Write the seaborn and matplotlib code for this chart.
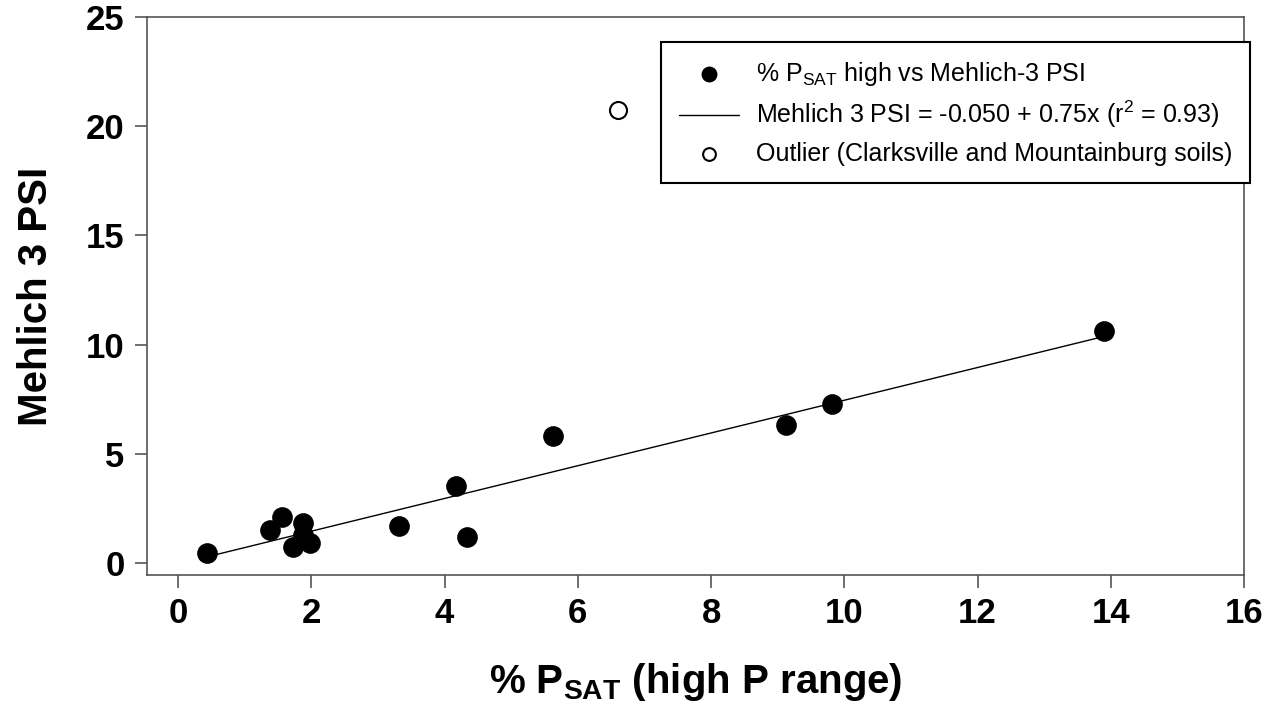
import numpy as np
import pandas as pd
import seaborn as sns
import matplotlib.pyplot as plt

# % PSAT (high P range) vs Mehlich 3 PSI
psat = [0.44, 1.38, 1.56, 1.73, 1.88, 1.88, 1.98, 3.32, 4.17, 4.34, 5.62, 9.13, 9.82, 13.89]
psi = [0.46, 1.52, 2.12, 0.74, 1.84, 1.29, 0.92, 1.70, 3.50, 1.20, 5.81, 6.31, 7.28, 10.60]
outlier_x = [6.61]
outlier_y = [20.74]
intercept, slope = -0.050, 0.75

sns.set_style('white')
plt.rcParams['font.family'] = ['Liberation Sans', 'DejaVu Sans']
plt.rcParams['mathtext.fontset'] = 'custom'
plt.rcParams['mathtext.rm'] = 'Liberation Sans'
plt.rcParams['mathtext.bf'] = 'Liberation Sans:bold'
plt.rcParams['text.color'] = 'black'
plt.rcParams['axes.labelcolor'] = 'black'
plt.rcParams['xtick.color'] = 'black'
plt.rcParams['ytick.color'] = 'black'

df = pd.DataFrame({'x': psat, 'y': psi})
fit = pd.DataFrame({'x': [min(psat), max(psat)]})
fit['y'] = intercept + slope * fit['x']
out = pd.DataFrame({'x': outlier_x, 'y': outlier_y})

fig = plt.figure(figsize=(12.76, 7.15), dpi=100)
ax = fig.add_axes([0.115, 0.196, 0.86, 0.78])

sns.scatterplot(x='x', y='y', data=df, ax=ax, color='black', s=190,
                edgecolor='black', zorder=3,
                label=r'% P$_{\mathrm{SAT}}$ high vs Mehlich-3 PSI')
sns.lineplot(x='x', y='y', data=fit, ax=ax, color='black', linewidth=1.0,
             label=r'Mehlich 3 PSI = -0.050 + 0.75x (r$^{2}$ = 0.93)')
ax.scatter(out['x'], out['y'], s=150, facecolor='white', edgecolor='black',
           linewidth=1.5, zorder=3,
           label='Outlier (Clarksville and Mountainburg soils)')

ax.set_xlim(-0.47, 16)
ax.set_ylim(-0.55, 25)
ax.set_xticks(range(0, 17, 2))
ax.set_yticks(range(0, 26, 5))
ax.tick_params(axis='both', direction='out', length=9, width=1.2, color='#555555',
               labelsize=25, pad=7)
ax.tick_params(left=True, bottom=True)
for lab in ax.get_xticklabels() + ax.get_yticklabels():
    lab.set_fontweight('bold')
for sp in ax.spines.values():
    sp.set_color('#555555')
    sp.set_linewidth(1.2)

ax.set_xlabel(r'% P$_{\mathbf{SAT}}$ (high P range)', fontsize=29, fontweight='bold', labelpad=22)
ax.set_ylabel('Mehlich 3 PSI', fontsize=29, fontweight='bold', labelpad=22)

leg = ax.legend(loc='upper right', bbox_to_anchor=(1.0055, 0.955), borderaxespad=0,
                fontsize=18, frameon=True, fancybox=False, edgecolor='black',
                framealpha=1, borderpad=0.7, handletextpad=0.7, markerscale=0.75,
                labelspacing=0.45, handlelength=2.4)
leg.get_frame().set_linewidth(1.5)

fig.savefig('out.png', dpi=100)
